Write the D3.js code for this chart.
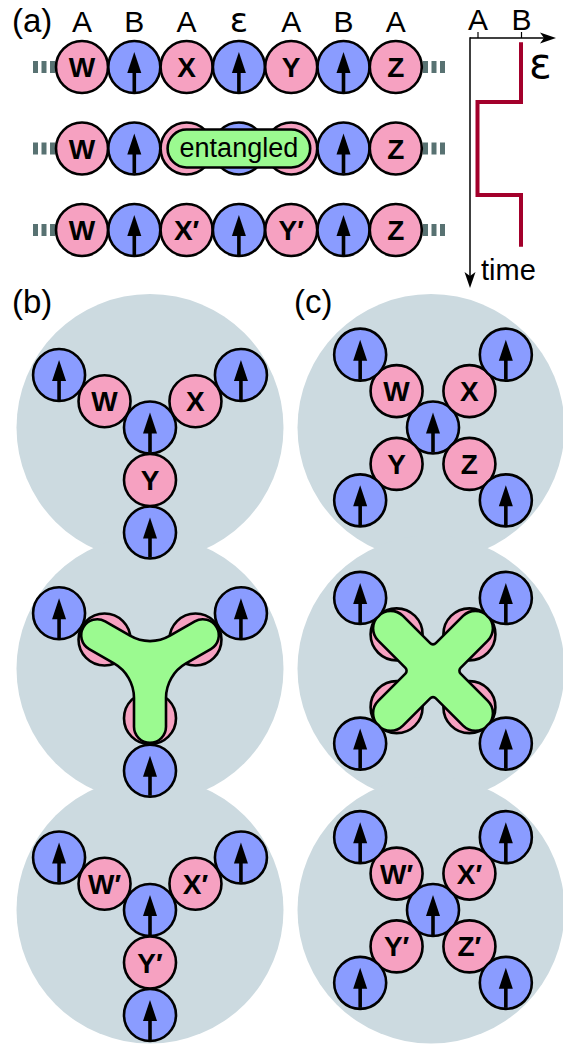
<!DOCTYPE html>
<html><head><meta charset="utf-8">
<script src="https://cdn.jsdelivr.net/npm/d3@7"></script>
<style>html,body{margin:0;padding:0;background:#fff;} svg{display:block;}</style>
</head><body>
<svg id="fig" width="563" height="1048"></svg>
<script>
// ---------------- data ----------------
const siteTypes = ["A","B","A","ε","A","B","A"];
const chainRow1 = ["W","↑","X","↑","Y","↑","Z"];
const chainRow2 = ["W","↑","X","↑","Y","↑","Z"];
const chainRow3 = ["W","↑","X′","↑","Y′","↑","Z"];
const chainRows = [chainRow1, chainRow2, chainRow3];
const entangledRow = 1;
const entangledSites = [2, 4];
const entangledText = "entangled";
const timeTicks = ["A", "B"];
const epsSwitchTimes = [0.07, 1.08, 2.65, 3.52];
const epsSites = ["B", "A", "B"];
const yArmAngles = [-150, -30, 90];
const xArmAngles = [-135, -45, 45, 135];
const yStageLabels = [["W","X","Y"], null, ["W′","X′","Y′"]];
const xStageLabels = [["W","X","Z","Y"], null, ["W′","X′","Z′","Y′"]];
const panelLabels = ["(a)", "(b)", "(c)"];

// ---------------- style ----------------
const PINK = "#f6a1c1", BLUE = "#8a9cff", GREEN = "#9bfa90", GRAY = "#ccdae0",
      DASH = "#587272", RED = "#a3002b";
const R = 26;
const SANS = "'Liberation Sans', Arial, Helvetica, sans-serif";

const svg = d3.select("#fig");

// scales
const chainX = d3.scaleLinear().domain([0, 6]).range([82, 395.8]);
const chainY = d3.scaleLinear().domain([0, 2]).range([67, 230]);
const colX = d3.scaleOrdinal().domain(["b", "c"]).range([150, 431]);
const stageY = d3.scaleLinear().domain([0, 2]).range([427.5, 910]);

// ---------------- helpers ----------------
function drawSite(g, x, y, type, label) {
  g.append("circle").attr("cx", x).attr("cy", y).attr("r", R)
    .attr("fill", type === "B" ? BLUE : PINK)
    .attr("stroke", "#000").attr("stroke-width", 2.6);
  if (label === "↑") {
    g.append("line").attr("x1", x).attr("x2", x).attr("y1", y + 3).attr("y2", y + R - 1)
      .attr("stroke", "#000").attr("stroke-width", 3.6);
    g.append("path").attr("d", `M${x},${y - 15}L${x - 7},${y + 6}L${x + 7},${y + 6}Z`)
      .attr("fill", "#000");
  } else if (label) {
    g.append("text").attr("x", x).attr("y", y + 10).attr("text-anchor", "middle")
      .attr("font-family", SANS).attr("font-weight", "bold").attr("font-size", 28)
      .text(label);
  }
}

function blobPath(cx, cy, angles, L, w, f) {
  const n = angles.length;
  const rad = angles.map(a => a * Math.PI / 180);
  const tAt = rad.map((p, i) => {
    let nx = rad[(i + 1) % n];
    if (nx <= p) nx += 2 * Math.PI;
    const th = nx - p;
    const D = (w + f) / Math.sin(th / 2);
    return D * Math.cos(th / 2);
  });
  const pt = (phi, dist, side) => {
    const ux = Math.cos(phi), uy = Math.sin(phi);
    const nx = side < 0 ? Math.sin(phi) : -Math.sin(phi);
    const ny = side < 0 ? -Math.cos(phi) : Math.cos(phi);
    return `${(cx + ux * dist + nx * w).toFixed(2)},${(cy + uy * dist + ny * w).toFixed(2)}`;
  };
  let d = "";
  for (let i = 0; i < n; i++) {
    const phi = rad[i];
    const tPrev = tAt[(i - 1 + n) % n], tNext = tAt[i];
    d += (i === 0 ? "M" : "L") + pt(phi, tPrev, -1);
    d += "L" + pt(phi, L, -1);
    d += `A${w},${w} 0 0 1 ` + pt(phi, L, 1);
    d += "L" + pt(phi, tNext, 1);
    d += `A${f},${f} 0 0 0 ` + pt(rad[(i + 1) % n], tNext, -1);
  }
  return d + "Z";
}

function drawMolecule(g, cx, cy, angles, labels, spacing, blob) {
  const pos = (a, k) => [cx + Math.cos(a * Math.PI / 180) * spacing * k,
                         cy + Math.sin(a * Math.PI / 180) * spacing * k];
  if (labels) {
    drawSite(g, cx, cy, "B", "↑");
    angles.forEach((a, i) => { const p = pos(a, 1); drawSite(g, p[0], p[1], "A", labels[i]); });
  } else {
    angles.forEach(a => { const p = pos(a, 1); drawSite(g, p[0], p[1], "A", null); });
    g.append("path").attr("d", blobPath(cx, cy, angles, blob.L, blob.w, blob.f))
      .attr("fill", GREEN).attr("stroke", "#000").attr("stroke-width", 2.6)
      .attr("stroke-linejoin", "round");
  }
  angles.forEach(a => { const p = pos(a, 2); drawSite(g, p[0], p[1], "B", "↑"); });
}

// ---------------- gray backgrounds ----------------
const bg = svg.append("g");
["b", "c"].forEach(col => {
  [0, 1, 2].forEach(s => {
    bg.append("circle").attr("cx", colX(col)).attr("cy", stageY(s)).attr("r", 133.5)
      .attr("fill", GRAY);
  });
});

// ---------------- panel labels ----------------
const lab = svg.append("g").attr("font-family", SANS).attr("font-size", 33);
lab.append("text").attr("x", 12).attr("y", 32).text(panelLabels[0]);
lab.append("text").attr("x", 12).attr("y", 313).text(panelLabels[1]);
lab.append("text").attr("x", 294).attr("y", 313).text(panelLabels[2]);

// ---------------- panel (a) chain ----------------
const ga = svg.append("g");
ga.selectAll("text.st").data(siteTypes).join("text")
  .attr("x", (d, i) => chainX(i)).attr("y", 32).attr("text-anchor", "middle")
  .attr("font-family", d => d === "ε" ? "'DejaVu Sans', sans-serif" : SANS)
  .attr("font-size", d => d === "ε" ? 34 : 30)
  .text(d => d);

chainRows.forEach((row, r) => {
  const y = chainY(r);
  // dashed continuation bars
  [33, 41.5, 50, 423, 431.5, 440].forEach(x0 => {
    ga.append("rect").attr("x", x0).attr("y", y - 6).attr("width", 5).attr("height", 12)
      .attr("fill", DASH);
  });
  row.forEach((lbl, i) => {
    const type = i % 2 === 1 ? "B" : "A";
    const hidden = r === entangledRow && i >= entangledSites[0] && i <= entangledSites[1];
    drawSite(ga, chainX(i), y, type, hidden ? null : lbl);
  });
  if (r === entangledRow) {
    const x0 = chainX(entangledSites[0]) - 19, x1 = chainX(entangledSites[1]) + 19;
    ga.append("rect").attr("x", x0).attr("y", y - 19).attr("width", x1 - x0).attr("height", 38)
      .attr("rx", 19).attr("fill", GREEN).attr("stroke", "#000").attr("stroke-width", 2.6);
    ga.append("text").attr("x", (x0 + x1) / 2).attr("y", y + 8.5).attr("text-anchor", "middle")
      .attr("font-family", SANS).attr("font-size", 27).text(entangledText);
  }
});

// ---------------- timeline ----------------
const xT = d3.scalePoint().domain(timeTicks).range([477.5, 521]);
const yT = d3.scaleLinear().domain([0, 4.2]).range([38, 287]);
const gt = svg.append("g");
const axis = gt.append("g").attr("transform", "translate(0,38)")
  .call(d3.axisTop(xT).tickSize(6).tickSizeOuter(0).tickPadding(2));
axis.select(".domain").remove();
axis.selectAll(".tick line").attr("stroke", "#000").attr("stroke-width", 1.2);
axis.selectAll(".tick text").attr("font-family", SANS).attr("font-size", 30).attr("fill", "#000");
gt.append("line").attr("x1", 470).attr("x2", 545).attr("y1", 38).attr("y2", 38)
  .attr("stroke", "#000").attr("stroke-width", 1.5);
gt.append("path").attr("d", "M556,38L540,32.5L544,38L540,43.5Z").attr("fill", "#000");
gt.append("line").attr("x1", 470).attr("x2", 470).attr("y1", 37.3).attr("y2", 277)
  .attr("stroke", "#000").attr("stroke-width", 1.5);
gt.append("path").attr("d", "M470,288L464.5,272L470,276L475.5,272Z").attr("fill", "#000");
gt.append("text").attr("x", 529).attr("y", 78).attr("font-family", "'DejaVu Sans', sans-serif")
  .attr("font-size", 42).text("ε");
gt.append("text").attr("x", 481).attr("y", 280).attr("font-family", SANS)
  .attr("font-size", 29).text("time");
const trackPts = [];
epsSites.forEach((s, i) => {
  trackPts.push([xT(s), yT(epsSwitchTimes[i])]);
  trackPts.push([xT(s), yT(epsSwitchTimes[i + 1])]);
});
gt.append("path").attr("d", d3.line()(trackPts)).attr("fill", "none")
  .attr("stroke", RED).attr("stroke-width", 4).attr("stroke-linejoin", "miter");

// ---------------- panels (b) and (c) ----------------
const gm = svg.append("g");
[0, 1, 2].forEach(s => {
  drawMolecule(gm, colX("b"), stageY(s) + (s === 1 ? -3 : 0), yArmAngles, yStageLabels[s], 52.5,
               { L: 61, w: 16, f: 40 });
  drawMolecule(gm, colX("c") + 2, stageY(s) + (s === 1 ? 2 : 0), xArmAngles, xStageLabels[s], 51.5,
               { L: 60, w: 17.5, f: 4 });
});
</script>
</body></html>
